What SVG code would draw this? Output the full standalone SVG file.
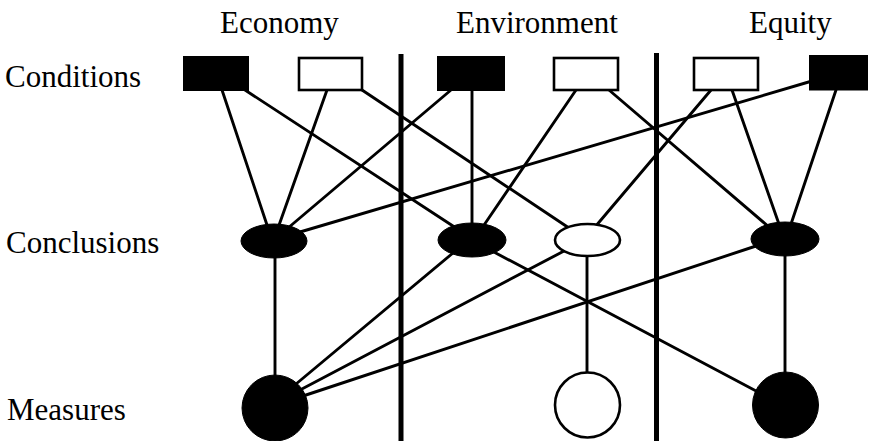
<svg xmlns="http://www.w3.org/2000/svg" width="869" height="441" viewBox="0 0 869 441">
<style>
text{font-family:"Liberation Serif","Times New Roman",serif;font-size:31px;fill:#000}
.k{fill:#000;stroke:#000;stroke-width:1}
.w{fill:#fff;stroke:#000;stroke-width:2.6}
#connectors line{stroke:#000;stroke-width:2.9;stroke-linecap:round}
.div{stroke:#000;stroke-width:5}
</style>
<rect width="869" height="441" fill="#fff"/>
<g id="labels">
<text x="220" y="33">Economy</text>
<text x="456" y="33">Environment</text>
<text x="749" y="33">Equity</text>
<text x="5" y="87">Conditions</text>
<text x="6" y="253">Conclusions</text>
<text x="7" y="420">Measures</text>
</g>
<g id="dividers">
<line class="div" x1="401" y1="54" x2="401" y2="441"/>
<line class="div" x1="656.5" y1="53" x2="656.5" y2="441"/>
</g>
<g id="connectors">
<line x1="222" y1="90" x2="268" y2="228"/>
<line x1="245" y1="90" x2="456" y2="228"/>
<line x1="327" y1="90" x2="278" y2="228"/>
<line x1="362" y1="90" x2="569" y2="228"/>
<line x1="451" y1="90" x2="288" y2="228"/>
<line x1="472" y1="90" x2="472" y2="228"/>
<line x1="576" y1="90" x2="482" y2="228"/>
<line x1="609" y1="90" x2="769" y2="227"/>
<line x1="711" y1="90" x2="595" y2="227"/>
<line x1="732" y1="90" x2="780" y2="227"/>
<line x1="812" y1="81" x2="300" y2="232"/>
<line x1="836" y1="90" x2="790" y2="227"/>
<line x1="275" y1="255" x2="275" y2="378"/>
<line x1="453" y1="253" x2="296" y2="384"/>
<line x1="492" y1="251" x2="758" y2="392"/>
<line x1="564" y1="251" x2="300" y2="390"/>
<line x1="587" y1="254" x2="587" y2="375"/>
<line x1="756" y1="246" x2="303" y2="396"/>
<line x1="785" y1="254" x2="785" y2="375"/>
</g>
<g id="cond-economy-1"><rect class="k" x="183.5" y="56.5" width="65" height="34"/></g>
<g id="cond-economy-2"><rect class="w" x="299" y="58" width="63" height="32"/></g>
<g id="cond-environment-1"><rect class="k" x="437.5" y="56.5" width="67" height="34"/></g>
<g id="cond-environment-2"><rect class="w" x="554" y="58" width="64" height="32"/></g>
<g id="cond-equity-1"><rect class="w" x="694" y="58" width="64" height="32"/></g>
<g id="cond-equity-2"><rect class="k" x="809.5" y="55.5" width="58" height="34.5"/></g>
<g id="concl-economy"><ellipse class="k" cx="274" cy="241" rx="33" ry="17"/></g>
<g id="concl-environment-1"><ellipse class="k" cx="472" cy="240" rx="34" ry="17"/></g>
<g id="concl-environment-2"><ellipse class="w" cx="587.5" cy="240" rx="32.5" ry="16"/></g>
<g id="concl-equity"><ellipse class="k" cx="785" cy="239" rx="34" ry="17"/></g>
<g id="measure-economy"><circle class="k" cx="275" cy="408" r="33"/></g>
<g id="measure-environment"><circle class="w" cx="587.5" cy="405" r="32.5"/></g>
<g id="measure-equity"><circle class="k" cx="785.5" cy="405" r="33"/></g>
</svg>
